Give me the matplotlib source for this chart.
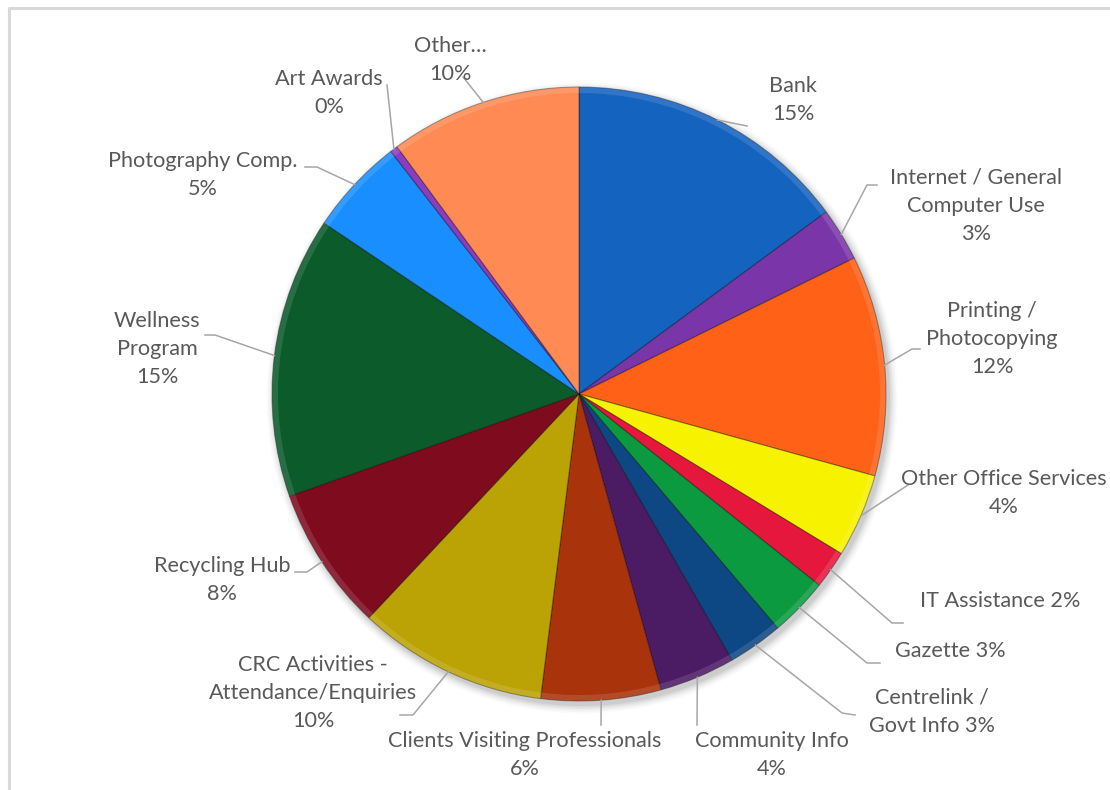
import matplotlib.pyplot as plt
import numpy as np
from matplotlib.patches import Circle, Wedge

# data (percent of visits)
categories = [
    "Bank", "Internet / General\nComputer Use", "Printing /\nPhotocopying",
    "Other Office Services", "IT Assistance", "Gazette", "Centrelink /\nGovt Info",
    "Community Info", "Clients Visiting Professionals",
    "CRC Activities -\nAttendance/Enquiries", "Recycling Hub", "Wellness\nProgram",
    "Photography Comp.", "Art Awards", "Other…",
]
values = [14.9, 2.8, 11.6, 4.4, 2.0, 3.1, 2.9, 4.0, 6.3, 10.0, 7.6, 14.8, 5.1, 0.4, 10.1]
pct_sep = ["\n", "\n", "\n", "\n", " ", " ", " ", "\n", "\n", "\n", "\n", "\n", "\n", "\n", "\n"]
colors = [
    "#1463BF", "#7A35A8", "#FF6117", "#F7F200", "#E5173D", "#0C9A40", "#0D4784",
    "#4B1B64", "#A9330B", "#BBA305", "#7F0B1F", "#0B5B2B", "#198EFF", "#8B3DC2", "#FF8A54",
]

# layout in pixel coordinates (y measured from top)
W, H = 1110, 790
cx, cy, R = 579, 394, 307
label_xy = [
    (793, 100), (976, 206), (992, 339), (1004, 493), (1000, 601), (950, 651),
    (932, 712), (772, 755), (525, 755), (313, 693), (222, 580), (157, 349),
    (203, 175), (329, 93), (450, 60),
]
leader_pts = [
    [(747, 126)], [(867, 185), (877, 185)], [(912, 349), (920, 349)],
    [(908, 485)], [(892, 623), (903, 623)], [(867, 663), (880, 663)],
    [(842, 713), (855, 715)], [(697, 725)], [(601, 725)],
    [(413, 715), (400, 715)], [(307, 572), (295, 572)], [(215, 335), (205, 335)],
    [(317, 167), (305, 167)], [(387, 85)], [(463, 77)],
]


def fy(py):
    return H - py


plt.rcParams["font.family"] = ["Lato", "DejaVu Sans"]
fig = plt.figure(figsize=(W / 100, H / 100), dpi=100)
ax = fig.add_axes([0, 0, 1, 1])

# chart area border (only left and top visible)
ax.plot([9, 9, W + 5], [-5, fy(8), fy(8)], color="#D9D9D9", lw=2.2, zorder=0)

# soft shadow under the pie
for i, a in enumerate(np.linspace(0.05, 0.015, 6)):
    ax.add_patch(Circle((cx + 3, fy(cy) - 4), R + 1 + i * 1.5, color="black",
                        alpha=a, lw=0, zorder=1))

wedges, _ = ax.pie(
    values, colors=colors, startangle=90, counterclock=False,
    center=(cx, fy(cy)), radius=R, frame=True,
    wedgeprops=dict(edgecolor=(0, 0, 0, 0.35), linewidth=0.8, zorder=2),
)
ax.set_xlim(0, W)
ax.set_ylim(0, H)
ax.set_aspect("equal")
ax.axis("off")

# light bevel along the rim
for w in wedges:
    ax.add_patch(Wedge((cx, fy(cy)), R, w.theta1, w.theta2, width=6,
                       facecolor="white", alpha=0.12, lw=0, zorder=3))

total = sum(values)
for w, name, v, sep, (lx, ly), pts in zip(wedges, categories, values, pct_sep,
                                          label_xy, leader_pts):
    mid = np.deg2rad((w.theta1 + w.theta2) / 2)
    x0 = cx + R * np.cos(mid)
    y0 = fy(cy) + R * np.sin(mid)
    xs = [x0] + [p[0] for p in pts]
    ys = [y0] + [fy(p[1]) for p in pts]
    ax.plot(xs, ys, color="#A6A6A6", lw=1.1, zorder=4)
    txt = f"{name}{sep}{round(v / total * 100):.0f}%"
    ax.text(lx, fy(ly), txt, ha="center", va="center", fontsize=15.6,
            color="#595959", linespacing=1.5, zorder=5)

fig.savefig("out.png", dpi=100)
